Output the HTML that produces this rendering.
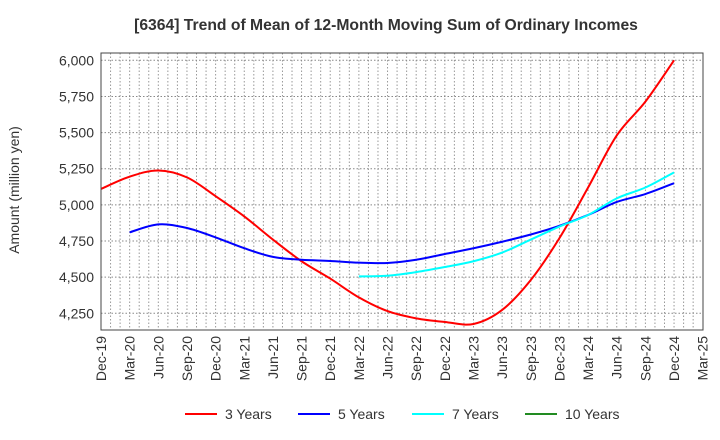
<!DOCTYPE html>
<html><head><meta charset="utf-8"><style>
body{margin:0;background:#fff;font-family:"Liberation Sans",Arial,sans-serif}
svg{display:block}
</style></head><body>
<svg id="chart" width="720" height="440" xmlns="http://www.w3.org/2000/svg">
<text x="386" y="30" text-anchor="middle" font-size="15.7" font-weight="bold" fill="#333">[6364]  Trend of Mean of 12-Month Moving Sum of Ordinary Incomes</text>
<text transform="translate(19,190) rotate(-90)" text-anchor="middle" font-size="14" fill="#333">Amount (million yen)</text>
<g id="grid"></g><g id="yticks"></g><g id="xticks"></g><g id="series"></g>
<rect x="101" y="53" width="602" height="277" fill="none" stroke="#444" stroke-width="1"/>
<g id="legend"></g>
</svg>
<script>
const categories=["Dec-19","Mar-20","Jun-20","Sep-20","Dec-20","Mar-21","Jun-21","Sep-21","Dec-21","Mar-22","Jun-22","Sep-22","Dec-22","Mar-23","Jun-23","Sep-23","Dec-23","Mar-24","Jun-24","Sep-24","Dec-24","Mar-25"];
const yTicks=[4250,4500,4750,5000,5250,5500,5750,6000];
const s3=[5110,5195,5238,5190,5060,4920,4760,4610,4490,4360,4265,4215,4190,4176,4273,4480,4770,5120,5480,5714,6000];
const s5=[null,4810,4865,4840,4775,4700,4640,4620,4612,4600,4598,4620,4660,4700,4745,4795,4855,4930,5020,5075,5150];
const s7=[null,null,null,null,null,null,null,null,null,4505,4510,4535,4570,4610,4670,4760,4850,4930,5045,5120,5225];
const s10=[];
const seriesNames=["3 Years","5 Years","7 Years","10 Years"];
const NS="http://www.w3.org/2000/svg";
const L=101,R=702.7,T=53,B=330;
const xq=i=>L+i*(R-L)/21;
const y=v=>60.3+(6000-v)/250*36.14;
function mk(t,a,p){const e=document.createElementNS(NS,t);for(const k in a)e.setAttribute(k,a[k]);p.appendChild(e);return e;}
const grid=document.getElementById('grid');
for(let m=1;m<63;m++){const x=L+m*(R-L)/63;
const g=mk('line',{x1:x,x2:x,y1:T,y2:B,stroke:'#999','stroke-dasharray':'1.5,2','stroke-width':1},grid);

}
const yt=document.getElementById('yticks');
yTicks.forEach(v=>{const l=mk('line',{x1:L,x2:R,y1:y(v),y2:y(v),stroke:'#888','stroke-dasharray':'1.5,2','stroke-width':1},grid);


const t=mk('text',{x:94,y:y(v)+5,'text-anchor':'end','font-size':14,fill:'#333'},yt);t.textContent=v.toLocaleString('en-US');

});
const xt=document.getElementById('xticks');
categories.forEach((c,i)=>{const t=mk('text',{transform:`translate(${xq(i)+5},336) rotate(-90)`,'text-anchor':'end','font-size':14,fill:'#333'},xt);t.textContent=c;

});
function path(arr){const p=[];arr.forEach((v,i)=>{if(v!=null)p.push([xq(i),y(v)]);});if(p.length<2)return '';
let d=`M${p[0][0]},${p[0][1]}`;for(let i=0;i<p.length-1;i++){const p0=p[i-1]||p[i],p1=p[i],p2=p[i+1],p3=p[i+2]||p2;
d+=` C${p1[0]+(p2[0]-p0[0])/6},${p1[1]+(p2[1]-p0[1])/6} ${p2[0]-(p3[0]-p1[0])/6},${p2[1]-(p3[1]-p1[1])/6} ${p2[0]},${p2[1]}`;}return d;}
const cols=["#f00","#00f","#0ff","#228b22"];
const sg=document.getElementById('series');
[s3,s5,s7,s10].forEach((a,k)=>{const d=path(a);if(!d)return;const e=mk('path',{d:d,fill:'none',stroke:cols[k],'stroke-width':2},sg);

});
const lg=document.getElementById('legend');
const lx=[185,298,412,525];
seriesNames.forEach((n,k)=>{const g=mk('g',{},lg);


mk('line',{x1:lx[k],x2:lx[k]+32,y1:414,y2:414,stroke:cols[k],'stroke-width':2},g);
const t=mk('text',{x:lx[k]+40,y:419,'font-size':14,fill:'#333'},g);t.textContent=n;});
</script>
</body></html>
